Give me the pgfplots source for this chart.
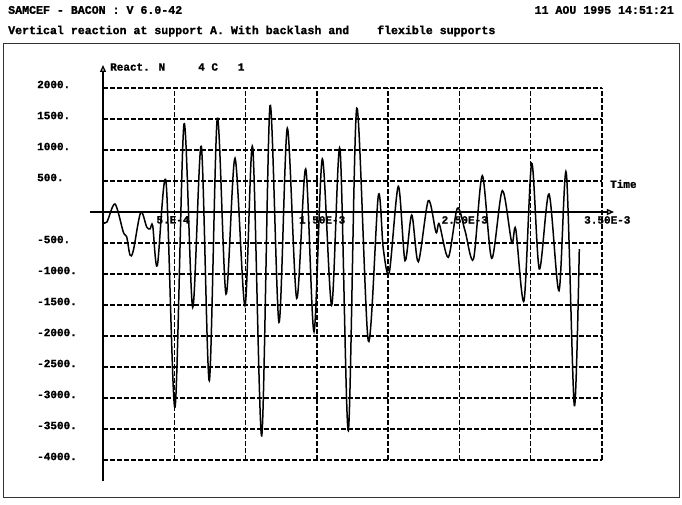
\documentclass[border=0pt]{standalone}
\usepackage{pgfplots}
\pgfplotsset{compat=1.18}
\usepackage{fontspec}
\setmainfont{Liberation Mono}[BoldFeatures={FakeBold=1.2}]
\usetikzlibrary{arrows.meta}
\begin{document}
\begin{tikzpicture}[x=1pt,y=1pt,font=\fontsize{11}{13}\selectfont\bfseries]
\useasboundingbox (0,0) rectangle (682,504);
\fill[white] (0,0) rectangle (682,504);
\draw[line width=0.9pt,black!80] (3,7) rectangle (679,461);
\node[anchor=west,inner sep=0pt,font=\fontsize{11.6}{13}\selectfont\bfseries] at (8,494) {SAMCEF - BACON : V 6.0-42};
\node[anchor=east,inner sep=0pt,font=\fontsize{11.6}{13}\selectfont\bfseries] at (674,494) {11 AOU 1995 14:51:21};
\node[anchor=west,inner sep=0pt,font=\fontsize{11.6}{13}\selectfont\bfseries] at (8,473) {Vertical reaction at support A. With backlash and\ \ \ \ flexible supports};
\begin{axis}[at={(103pt,44pt)}, anchor=south west, scale only axis,
  width=499pt, height=372pt,
  xmin=0, xmax=3.5, ymin=-4000, ymax=2000, clip=false,
  axis line style={draw=none}, major tick length=0pt,
  xtick={0.5,1,1.5,2,2.5,3,3.5}, xticklabels={},
  ytick={-4000,-3500,-3000,-2500,-2000,-1500,-1000,-500,0,500,1000,1500,2000},
  yticklabels={-4000.,-3500.,-3000.,-2500.,-2000.,-1500.,-1000.,-500.,{},500.,1000.,1500.,2000.},
  yticklabel style={anchor=west, inner sep=0pt, xshift=-66pt, yshift=3.5pt, font=\fontsize{11}{13}\selectfont\bfseries},
  grid=major,
  grid style={black, line width=1.3pt, dash pattern=on 5pt off 2pt},
]
\addplot[black, line width=1.5pt, smooth, tension=0.5] coordinates {
(0.0035,-170) (0.0281,-160) (0.0842,129) (0.1424,-323) (0.1662,-400) (0.1894,-694)
(0.2125,-624) (0.2644,-5) (0.3065,-242) (0.3297,-274) (0.3486,-221) (0.3809,-866)
(0.4419,489) (0.5050,-3151) (0.5681,1419) (0.6292,-1537) (0.6895,1060) (0.7456,-2721)
(0.8017,1511) (0.8627,-1323) (0.9259,866) (0.9960,-1511) (1.0500,1043) (1.1131,-3608)
(1.1714,1715) (1.2345,-1780) (1.2927,1350) (1.3586,-1392) (1.4218,694) (1.4800,-1931)
(1.5382,855) (1.6041,-1500) (1.6623,1016) (1.7206,-3527) (1.7795,1673) (1.8609,-2080)
(1.9310,263) (1.9661,-597) (2.0081,-973) (2.0713,414) (2.1183,-785) (2.1653,-48)
(2.2116,-802) (2.2817,183) (2.3357,-328) (2.3589,-194) (2.4220,-731) (2.4851,59)
(2.5391,-300) (2.5987,-758) (2.6605,586) (2.7264,-747) (2.8007,344) (2.8667,-489)
(2.8947,-274) (2.9530,-1431) (3.0069,785) (3.0603,-919) (3.1283,290) (3.1984,-1269)
(3.2497,629) (3.3058,-3124) (3.3408,-597)
};
\draw[line width=1.3pt,-{Triangle[open,length=7pt,width=6pt]}] (axis cs:0,-4339) -- (axis cs:0,2371);
\draw[line width=1.3pt,-{Triangle[open,length=7pt,width=6pt]}] (axis cs:-0.091,0) -- (axis cs:3.584,0);
\node[anchor=west,inner sep=0pt] at (axis cs:0.049,2339) {React. N\ \ \ \ \ 4 C\ \ \ 1};
\node[anchor=west,inner sep=0pt] at (axis cs:3.556,452) {Time};
\node[anchor=north west,inner sep=0pt,xshift=-18pt,yshift=-4pt] at (axis cs:0.5,0) {5.E-4};
\node[anchor=north west,inner sep=0pt,xshift=-18pt,yshift=-4pt] at (axis cs:1.5,0) {1.50E-3};
\node[anchor=north west,inner sep=0pt,xshift=-18pt,yshift=-4pt] at (axis cs:2.5,0) {2.50E-3};
\node[anchor=north west,inner sep=0pt,xshift=-18pt,yshift=-4pt] at (axis cs:3.5,0) {3.50E-3};
\end{axis}
\end{tikzpicture}
\end{document}
